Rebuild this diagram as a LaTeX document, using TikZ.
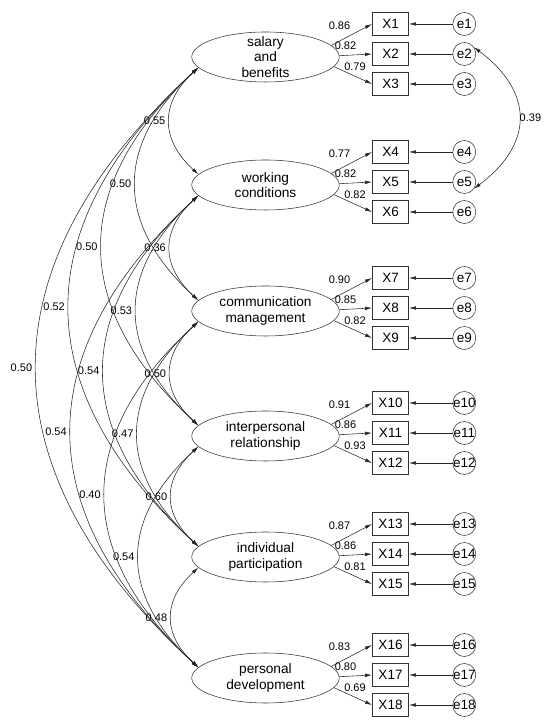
\documentclass[tikz,border=0pt]{standalone}
\usepackage{fontspec}
\setmainfont{Liberation Sans}
\usetikzlibrary{arrows.meta,calc,shapes.geometric}
\begin{document}
\begin{tikzpicture}[x=1pt,y=1pt,
  line width=0.55pt,
  >={Latex[length=7pt,width=3.6pt]},
  lat/.style={ellipse, draw=black!80, minimum width=147.5pt, minimum height=50pt, inner sep=0pt},
  lattext/.style={align=center, font=\fontsize{13.7}{15.7}\selectfont, inner sep=0pt},
  obs/.style={rectangle, draw=black!80, minimum width=36.4pt, minimum height=23pt, inner sep=0pt, font=\fontsize{13.5}{15}\selectfont},
  err/.style={circle, draw=black!80, minimum size=23pt, inner sep=0pt, font=\fontsize{13.5}{15}\selectfont},
  lab/.style={font=\fontsize{11}{12}\selectfont, inner sep=0.5pt},
  clab/.style={lab, midway, anchor=east, xshift=-3.5pt},
  edge/.style={draw=black!85},
  cov/.style={edge, <->},
]
\useasboundingbox (0,0) rectangle (550,727);

% latent variables
\node[lat] (sal) at (265.5,670) {};
\node[lattext] (salt) at (sal) {salary\\and\\benefits};
\node[lat] (wc) at (265.5,542) {};
\node[lattext] (wct) at (wc) {working\\conditions};
\node[lat] (cm) at (265.5,416) {};
\node[lattext] (cmt) at (cm) {communication\\management};
\node[lat] (ip) at (265.5,291) {};
\node[lattext] (ipt) at (ip) {interpersonal\\relationship};
\node[lat] (id) at (265.5,170) {};
\node[lattext] (idt) at (id) {individual\\participation};
\node[lat] (pd) at (265.5,49) {};
\node[lattext] (pdt) at (pd) {personal\\development};

% indicators, errors, loadings
\foreach \lv/\va/\vb/\vc [count=\k from 0] in
  {sal/0.86/0.82/0.79, wc/0.77/0.82/0.82, cm/0.90/0.85/0.82,
   ip/0.91/0.86/0.93, id/0.87/0.86/0.81, pd/0.83/0.80/0.69}{
  \pgfmathtruncatemacro{\ia}{3*\k+1}
  \pgfmathtruncatemacro{\ib}{3*\k+2}
  \pgfmathtruncatemacro{\ic}{3*\k+3}
  \node[obs] (X\ia) at ($(\lv)+(125,33)$) {X\ia};
  \node[obs] (X\ib) at ($(\lv)+(125,3)$) {X\ib};
  \node[obs] (X\ic) at ($(\lv)+(125,-27)$) {X\ic};
  \node[err] (e\ia) at ($(\lv)+(198.8,33)$) {\makebox[0pt]{e\ia}};
  \node[err] (e\ib) at ($(\lv)+(198.8,3)$) {\makebox[0pt]{e\ib}};
  \node[err] (e\ic) at ($(\lv)+(198.8,-27)$) {\makebox[0pt]{e\ic}};
  \draw[edge,->] (\lv.10) -- (X\ia.west);
  \draw[edge,->] (\lv.1) -- (X\ib.west);
  \draw[edge,->] (\lv.-8) -- (X\ic.west);
  \draw[edge,->] (e\ia) -- (X\ia);
  \draw[edge,->] (e\ib) -- (X\ib);
  \draw[edge,->] (e\ic) -- (X\ic);
  \node[lab] (la\ia) at ($(\lv)+(74,31)$) {\va};
  \node[lab] (la\ib) at ($(\lv)+(80,11.5)$) {\vb};
  \node[lab] (la\ic) at ($(\lv)+(89.5,-9.5)$) {\vc};
}

% latent covariances
\foreach \A/\B/\cv in {
  sal/wc/0.55, wc/cm/0.36, cm/ip/0.50, ip/id/0.60, id/pd/0.48,
  sal/cm/0.50, wc/ip/0.53, cm/id/0.47, ip/pd/0.54,
  sal/ip/0.50, wc/id/0.54, cm/pd/0.40,
  sal/id/0.52, wc/pd/0.54,
  sal/pd/0.50}{
  \draw[cov] let \p1=(\A.189), \p2=(\B.171), \n1={\y1-\y2} in
    (\p1) .. controls +({-0.36*\n1},{-0.33*\n1}) and +({-0.36*\n1},{0.33*\n1}) .. (\p2)
    node[clab] {\cv};
}

% error covariance
\draw[cov] (e2.35) .. controls +(60,-45) and +(60,45) .. (e5.-35)
  node[lab, midway, anchor=west] {0.39};
\end{tikzpicture}
\end{document}
